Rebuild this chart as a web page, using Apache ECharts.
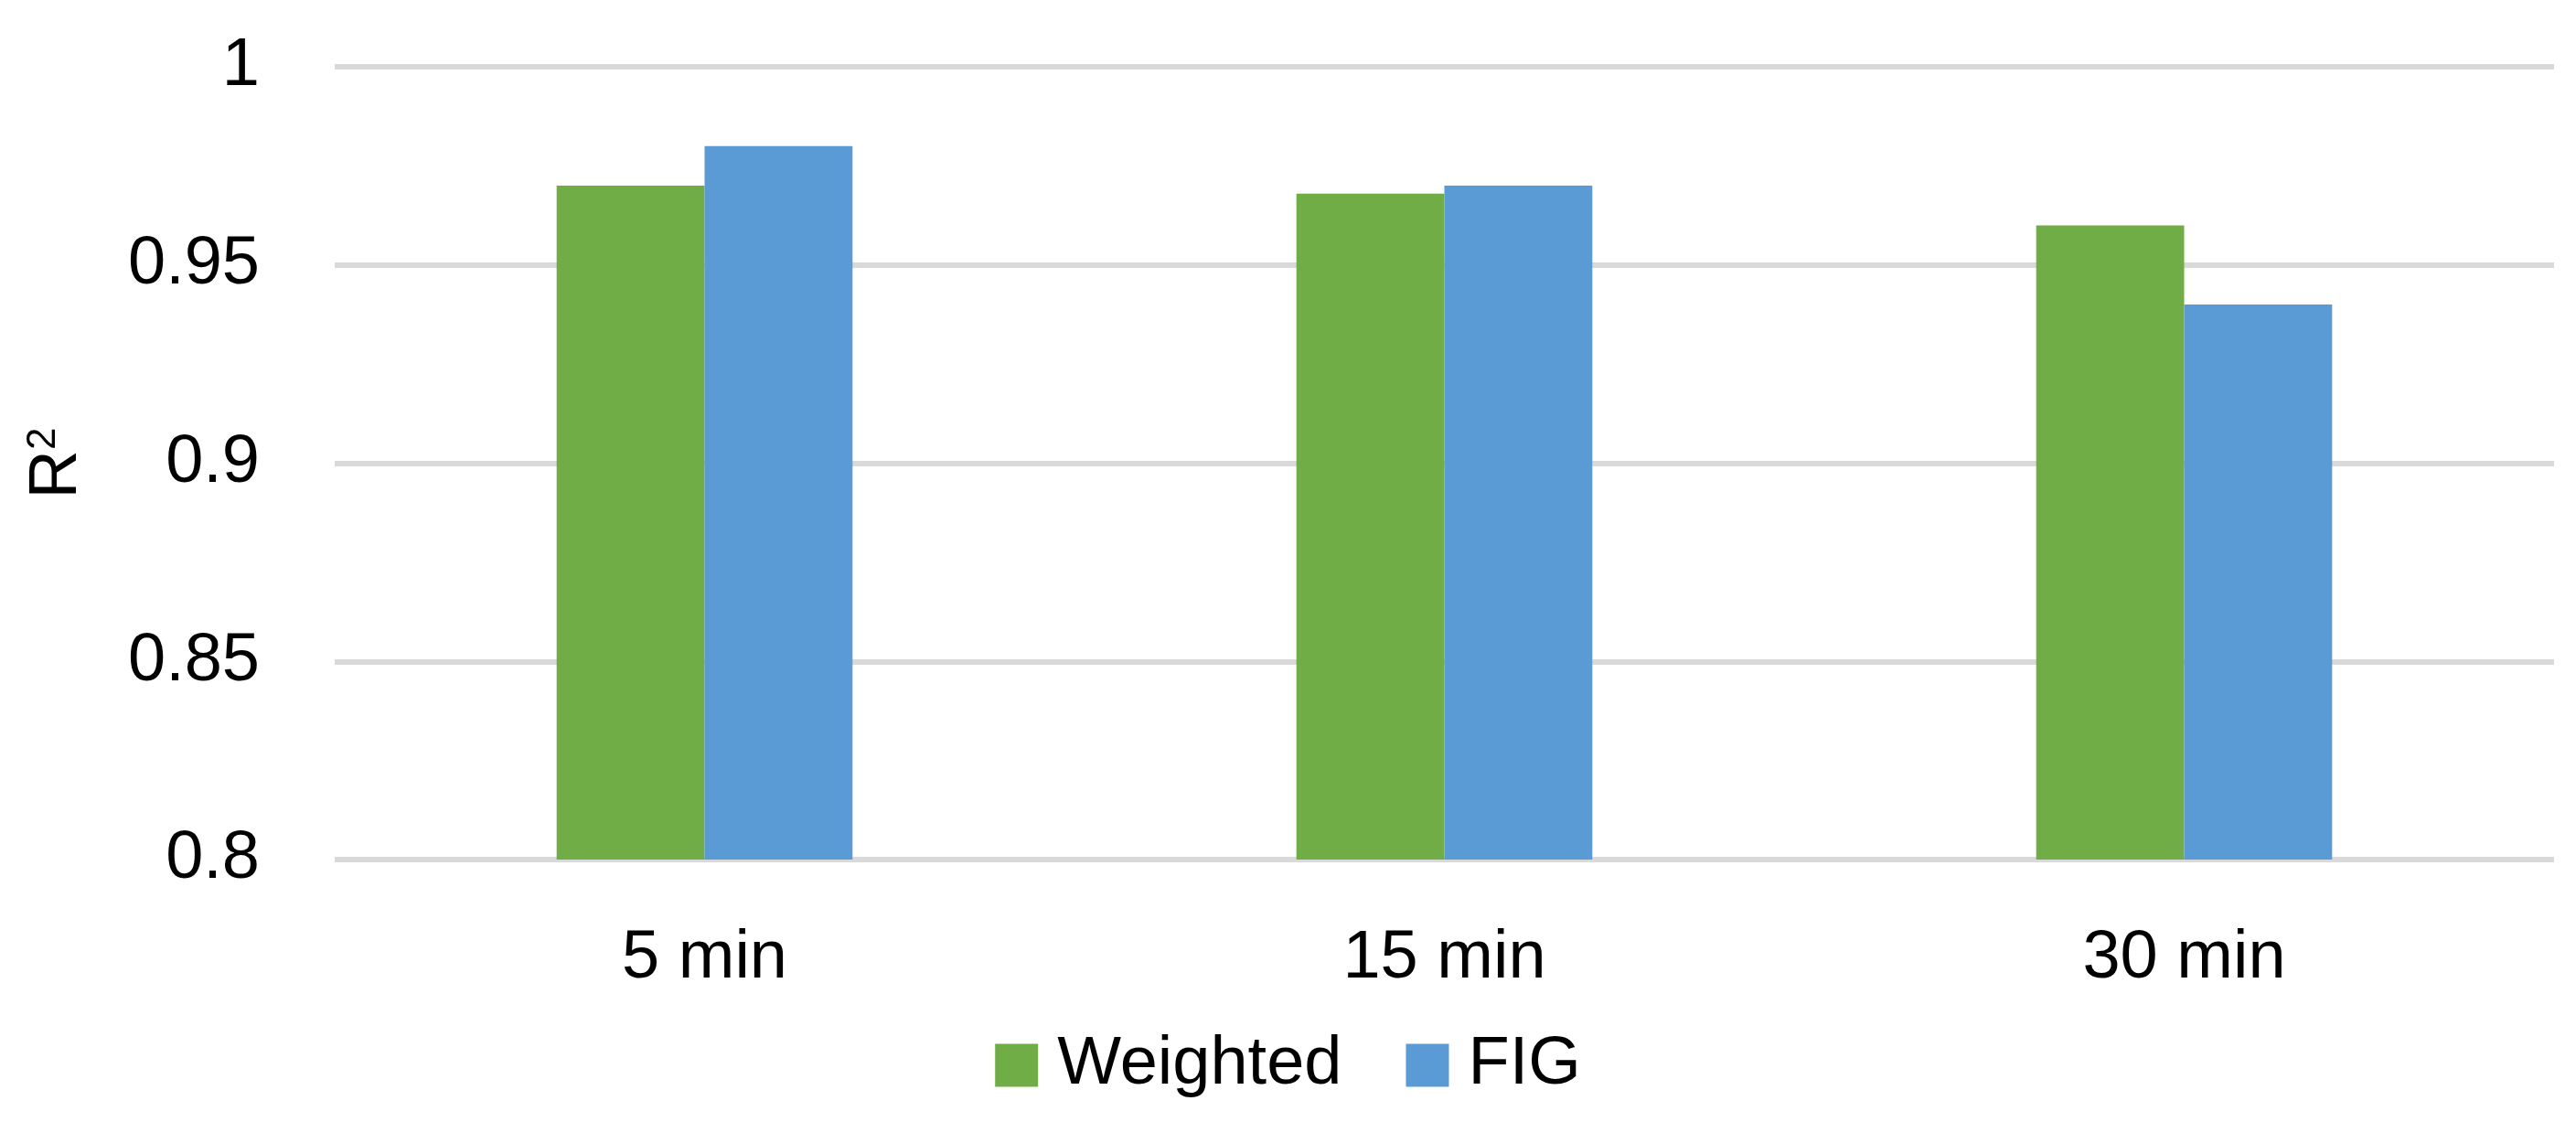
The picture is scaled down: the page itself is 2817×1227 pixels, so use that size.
<!DOCTYPE html>
<html>
<head>
<meta charset="utf-8">
<script src="https://cdn.jsdelivr.net/npm/echarts@6/dist/echarts.min.js"></script>
<style>
html,body{margin:0;padding:0;background:#fff;}
#chart{width:2817px;height:1227px;}
</style>
</head>
<body>
<div id="chart"></div>
<script>
const categories = ['5 min', '15 min', '30 min'];
const weighted = [0.970, 0.968, 0.960];
const fig = [0.980, 0.970, 0.940];
const yTicks = [0.8, 0.85, 0.9, 0.95, 1];

const FONT = 'Liberation Sans';
const chart = echarts.init(document.getElementById('chart'));
chart.setOption({
  backgroundColor: '#ffffff',
  animation: false,
  textStyle: { fontFamily: FONT },
  grid: { left: 366, right: 24, top: 73, bottom: 287, containLabel: false },
  legend: {
    data: ['Weighted', 'FIG'],
    bottom: 20,
    left: 'center',
    itemWidth: 47,
    itemHeight: 47,
    itemGap: 70,
    icon: 'rect',
    textStyle: { fontSize: 74, color: '#000', fontFamily: FONT, padding: [0, 0, 0, 16] }
  },
  xAxis: {
    type: 'category',
    data: categories,
    axisLine: { show: false },
    axisTick: { show: false },
    axisLabel: { fontSize: 74, color: '#000', margin: 72, fontFamily: FONT }
  },
  yAxis: {
    type: 'value',
    min: 0.8,
    max: 1,
    interval: 0.05,
    name: 'R{sup|2}',
    nameLocation: 'middle',
    nameRotate: 90,
    nameGap: 266,
    nameTextStyle: {
      fontSize: 74, color: '#000', fontFamily: FONT,
      rich: { sup: { fontSize: 44, verticalAlign: 'top', padding: [0, 0, 30, 0], color: '#000', fontFamily: FONT } }
    },
    axisLine: { show: false },
    axisTick: { show: false },
    axisLabel: {
      fontSize: 74, color: '#000', margin: 82, fontFamily: FONT,
      formatter: function (v) { return String(parseFloat(v.toFixed(2))); }
    },
    splitLine: { lineStyle: { color: '#d9d9d9', width: 6 } }
  },
  series: [
    { name: 'Weighted', type: 'bar', data: weighted, barGap: '0%', barCategoryGap: '60%', itemStyle: { color: '#70AD47' } },
    { name: 'FIG', type: 'bar', data: fig, barGap: '0%', barCategoryGap: '60%', itemStyle: { color: '#5B9BD5' } }
  ]
});
</script>
</body>
</html>
